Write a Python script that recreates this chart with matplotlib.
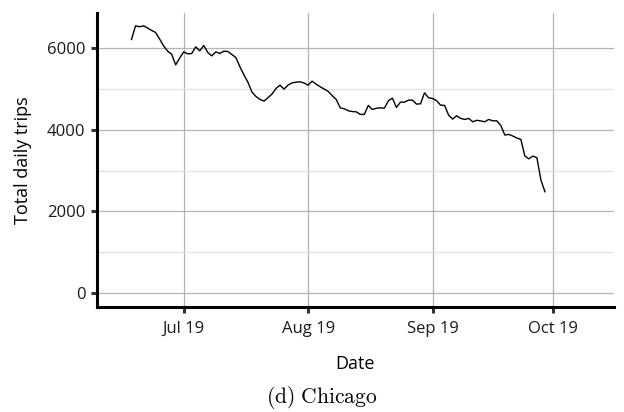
import matplotlib
matplotlib.use("Agg")
import matplotlib.pyplot as plt
import matplotlib.dates as mdates
import numpy as np
import pandas as pd

plt.rcParams["font.family"] = ["Open Sans", "DejaVu Sans"]
plt.rcParams["mathtext.fontset"] = "cm"

# daily totals, Chicago, from 18 Jun 2019
start_date = "2019-06-18"
trips = [
    6218, 6553, 6530, 6553, 6500, 6440, 6390, 6230, 6060, 5930,
    5858, 5596, 5760, 5914, 5865, 5874, 6037, 5939, 6071, 5899,
    5816, 5914, 5874, 5931, 5923, 5850, 5776, 5550, 5350, 5170,
    4930, 4820, 4750, 4706, 4790, 4880, 5017, 5098, 5000, 5100,
    5154, 5170, 5180, 5150, 5098, 5196, 5120, 5060, 5000, 4945,
    4840, 4747, 4542, 4517, 4470, 4450, 4443, 4380, 4380, 4600,
    4502, 4530, 4540, 4534, 4714, 4779, 4551, 4681, 4681, 4730,
    4730, 4632, 4640, 4910, 4787, 4770, 4720, 4608, 4600, 4363,
    4265, 4346, 4282, 4257, 4282, 4199, 4235, 4220, 4199, 4257,
    4223, 4223, 4110, 3873, 3890, 3850, 3800, 3766, 3358, 3290,
    3358, 3316, 2770, 2483,
]
dates = pd.date_range(start_date, periods=len(trips), freq="D")

fig = plt.figure(figsize=(6.24, 4.12), dpi=100)
ax = fig.add_axes([0.155, 0.255, 0.829, 0.713])

ax.plot(dates, trips, color="black", lw=1.0)

ax.set_xlim(pd.Timestamp("2019-06-09 08:00"), pd.Timestamp("2019-10-16 05:00"))
ax.set_ylim(-343, 6863)

ax.xaxis.set_major_locator(mdates.MonthLocator(bymonth=[7, 8, 9, 10]))
ax.xaxis.set_major_formatter(mdates.DateFormatter("%b %y"))
ax.set_yticks([0, 2000, 4000, 6000])
ax.set_yticks([1000, 3000, 5000], minor=True)

ax.grid(True, which="major", color="#b3b3b3", lw=0.9)
ax.grid(True, which="minor", axis="y", color="#e3e3e3", lw=0.9)
ax.set_axisbelow(True)

for side in ["top", "right"]:
    ax.spines[side].set_visible(False)
for side in ["left", "bottom"]:
    ax.spines[side].set_linewidth(2.2)
    ax.spines[side].set_color("black")

ax.tick_params(axis="both", which="major", length=4, width=2.2, color="#333333",
               labelsize=12, labelcolor="#1a1a1a", pad=4)
ax.tick_params(axis="x", which="major", pad=6)
ax.tick_params(axis="y", which="minor", length=0)

ax.set_xlabel("Date", fontsize=13, labelpad=13)
ax.set_ylabel("Total daily trips", fontsize=13, labelpad=11)

# subfigure caption, LaTeX style
fig.text(322 / 624, 9 / 412, r"$\mathrm{(d)\ Chicago}$", ha="center", va="baseline", fontsize=15.5)

fig.savefig("out.png", dpi=100)
